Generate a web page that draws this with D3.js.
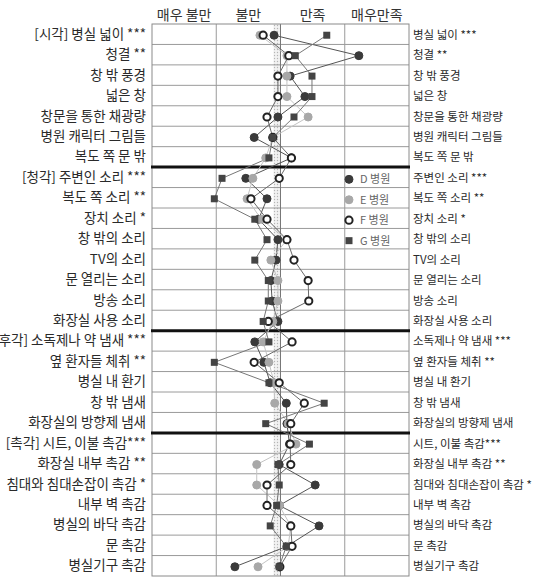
<!DOCTYPE html>
<html>
<head>
<meta charset="utf-8">
<script src="https://cdn.jsdelivr.net/npm/d3@7/dist/d3.min.js"></script>
<style>
  body { margin: 0; background: #fff; }
  text { font-family: "Noto Sans CJK KR", "Noto Sans", sans-serif; }
</style>
</head>
<body>
<div id="chart"></div>
<script>
// ---------------- data ----------------
const leftLabels = [
  '[시각] 병실 넓이 ***', '청결 **', '창 밖 풍경', '넓은 창', '창문을 통한 채광량', '병원 캐릭터 그림들', '복도 쪽 문 밖',
  '[청각] 주변인 소리 ***', '복도 쪽 소리 **', '장치 소리 *', '창 밖의 소리', 'TV의 소리', '문 열리는 소리', '방송 소리', '화장실 사용 소리',
  '[후각] 소독제나 약 냄새 ***', '옆 환자들 체취 **', '병실 내 환기', '창 밖 냄새', '화장실의 방향제 냄새',
  '[촉각] 시트, 이불 촉감***', '화장실 내부 촉감 **', '침대와 침대손잡이 촉감 *', '내부 벽 촉감', '병실의 바닥 촉감', '문 촉감', '병실기구 촉감'
]
const rightLabels = [
  '병실 넓이 ***', '청결 **', '창 밖 풍경', '넓은 창', '창문을 통한 채광량', '병원 캐릭터 그림들', '복도 쪽 문 밖',
  '주변인 소리 ***', '복도 쪽 소리 **', '장치 소리 *', '창 밖의 소리', 'TV의 소리', '문 열리는 소리', '방송 소리', '화장실 사용 소리',
  '소독제나 약 냄새 ***', '옆 환자들 체취 **', '병실 내 환기', '창 밖 냄새', '화장실의 방향제 냄새',
  '시트, 이불 촉감***', '화장실 내부 촉감 **', '침대와 침대손잡이 촉감 *', '내부 벽 촉감', '병실의 바닥 촉감', '문 촉감', '병실기구 촉감'
]
const scaleLabels = ['매우 불만', '불만', '만족', '매우만족']
const scaleCenters = [-1.5, -0.5, 0.5, 1.5]
const groupBreaks = [7, 15, 20]
const hospitals = ['D 병원', 'E 병원', 'F 병원', 'G 병원']

const valuesD = [-0.10, 1.22, 0.15, 0.38, -0.04, -0.41, 0.17,
  -0.54, -0.21, -0.34, -0.04, -0.07, -0.15, -0.13, -0.04,
  -0.40, -0.26, -0.16, 0.09, 0.10,
  0.14, -0.02, 0.54, -0.02, 0.60, 0.10, -0.71]
const valuesE = [-0.32, 0.10, 0.10, 0.10, 0.43, -0.12, -0.23,
  -0.43, -0.52, -0.30, 0.10, -0.15, -0.04, -0.04, -0.12,
  -0.27, -0.18, -0.10, -0.09, 0.12,
  0.24, -0.37, -0.37, -0.02, 0.16, 0.12, -0.35]
const valuesF = [-0.27, 0.13, -0.04, -0.04, -0.21, -0.12, 0.17,
  -0.02, -0.46, -0.21, 0.10, 0.21, 0.43, 0.44, -0.19,
  0.18, -0.41, -0.02, 0.37, 0.16,
  0.15, 0.16, -0.21, -0.21, 0.16, 0.18, -0.01]
const valuesG = [0.72, 0.23, 0.49, 0.49, 0.21, -0.12, -0.18,
  -0.91, -1.03, -0.40, -0.21, -0.40, -0.19, -0.19, -0.27,
  -0.18, -1.03, -0.18, 0.68, -0.23,
  0.45, -0.04, -0.02, -0.06, -0.16, 0.09, -0.02]

// ---------------- sizes ----------------
const WIDTH = 550
const HEIGHT = 578
const PLOT_LEFT = 152
const PLOT_RIGHT = 409
const PLOT_TOP = 24
const PLOT_BOTTOM = 576

const svg = d3.select('#chart').append('svg')
  .attr('width', WIDTH)
  .attr('height', HEIGHT)

const x = d3.scaleLinear().domain([-2, 2]).range([PLOT_LEFT, PLOT_RIGHT])
const y = d3.scaleBand().domain(d3.range(leftLabels.length)).range([PLOT_TOP, PLOT_BOTTOM])
const rowH = y.bandwidth()

// dotted band just left of the neutral line
const defs = svg.append('defs')
const pat = defs.append('pattern')
  .attr('id', 'dots')
  .attr('width', 3).attr('height', 3)
  .attr('patternUnits', 'userSpaceOnUse')
pat.append('rect').attr('width', 3).attr('height', 3).attr('fill', '#f2f2f2')
pat.append('circle').attr('cx', 1.5).attr('cy', 1.5).attr('r', 0.7).attr('fill', '#b5b5b5')

svg.append('rect')
  .attr('x', x(0) - 7).attr('y', PLOT_TOP)
  .attr('width', 7).attr('height', PLOT_BOTTOM - PLOT_TOP)
  .attr('fill', 'url(#dots)')

// grid: rows
svg.append('g')
  .selectAll('line')
  .data(d3.range(1, leftLabels.length))
  .join('line')
  .attr('x1', PLOT_LEFT).attr('x2', PLOT_RIGHT)
  .attr('y1', d => y(d)).attr('y2', d => y(d))
  .attr('stroke', '#9a9a9a')
  .attr('stroke-width', 1)

// grid: columns
svg.append('g')
  .selectAll('line')
  .data([-1, 0, 1])
  .join('line')
  .attr('x1', d => x(d)).attr('x2', d => x(d))
  .attr('y1', PLOT_TOP).attr('y2', PLOT_BOTTOM)
  .attr('stroke', d => d === 0 ? '#777' : '#9a9a9a')
  .attr('stroke-width', 1)

svg.append('rect')
  .attr('x', PLOT_LEFT).attr('y', PLOT_TOP)
  .attr('width', PLOT_RIGHT - PLOT_LEFT).attr('height', PLOT_BOTTOM - PLOT_TOP)
  .attr('fill', 'none')
  .attr('stroke', '#8a8a8a')

// thick group separators
svg.append('g')
  .selectAll('line')
  .data(groupBreaks)
  .join('line')
  .attr('x1', PLOT_LEFT - 1).attr('x2', PLOT_RIGHT + 1)
  .attr('y1', d => y(d)).attr('y2', d => y(d))
  .attr('stroke', '#111')
  .attr('stroke-width', 3)

// header
svg.append('g')
  .selectAll('text')
  .data(scaleLabels)
  .join('text')
  .attr('x', (d, i) => x(scaleCenters[i]))
  .attr('y', 20)
  .attr('text-anchor', 'middle')
  .attr('font-size', 14)
  .attr('fill', '#333')
  .text(d => d)

// row labels, both sides
svg.append('g')
  .selectAll('text')
  .data(leftLabels)
  .join('text')
  .attr('x', PLOT_LEFT - 6)
  .attr('y', (d, i) => y(i) + rowH / 2 + 4.5)
  .attr('text-anchor', 'end')
  .attr('font-size', 13.5)
  .attr('fill', '#2a2a2a')
  .text(d => d)

svg.append('g')
  .selectAll('text')
  .data(rightLabels)
  .join('text')
  .attr('x', PLOT_RIGHT + 4)
  .attr('y', (d, i) => y(i) + rowH / 2 + 4.5)
  .attr('font-size', 11.5)
  .attr('fill', '#2a2a2a')
  .text(d => d)

// ---------------- series ----------------
const series = [
  { name: hospitals[0], values: valuesD, line: '#555', shape: 'circle', fill: '#3a3a3a', stroke: '#3a3a3a', sw: 1 },
  { name: hospitals[1], values: valuesE, line: '#c4c4c4', shape: 'circle', fill: '#a8a8a8', stroke: '#a8a8a8', sw: 1 },
  { name: hospitals[2], values: valuesF, line: '#6a6a6a', shape: 'circle', fill: '#fff', stroke: '#222', sw: 2 },
  { name: hospitals[3], values: valuesG, line: '#777', shape: 'square', fill: '#444', stroke: '#444', sw: 1 }
]

const line = d3.line()
  .x(d => x(d))
  .y((d, i) => y(i) + rowH / 2 + 1)

svg.append('g')
  .selectAll('path')
  .data(series)
  .join('path')
  .attr('d', s => line(s.values))
  .attr('fill', 'none')
  .attr('stroke', s => s.line)
  .attr('stroke-width', 1)

function drawMarker(g, s, cx, cy) {
  if (s.shape === 'square') {
    g.append('rect')
      .attr('x', cx - 3.5).attr('y', cy - 3.5)
      .attr('width', 7).attr('height', 7)
      .attr('fill', s.fill)
  } else {
    g.append('circle')
      .attr('cx', cx).attr('cy', cy)
      .attr('r', s.sw > 1 ? 3.6 : 4)
      .attr('fill', s.fill)
      .attr('stroke', s.stroke)
      .attr('stroke-width', s.sw)
  }
}

const marks = svg.append('g')
series.forEach(s => {
  s.values.forEach((v, i) => drawMarker(marks, s, x(v), y(i) + rowH / 2 + 1))
})

// legend inside the plot
const legend = svg.append('g')
series.forEach((s, i) => {
  const cy = y(7 + i) + rowH / 2 + 2
  drawMarker(legend, s, 349, cy)
  legend.append('text')
    .attr('x', 360).attr('y', cy + 4)
    .attr('font-size', 11)
    .attr('fill', '#666')
    .text(s.name)
})
</script>
</body>
</html>
